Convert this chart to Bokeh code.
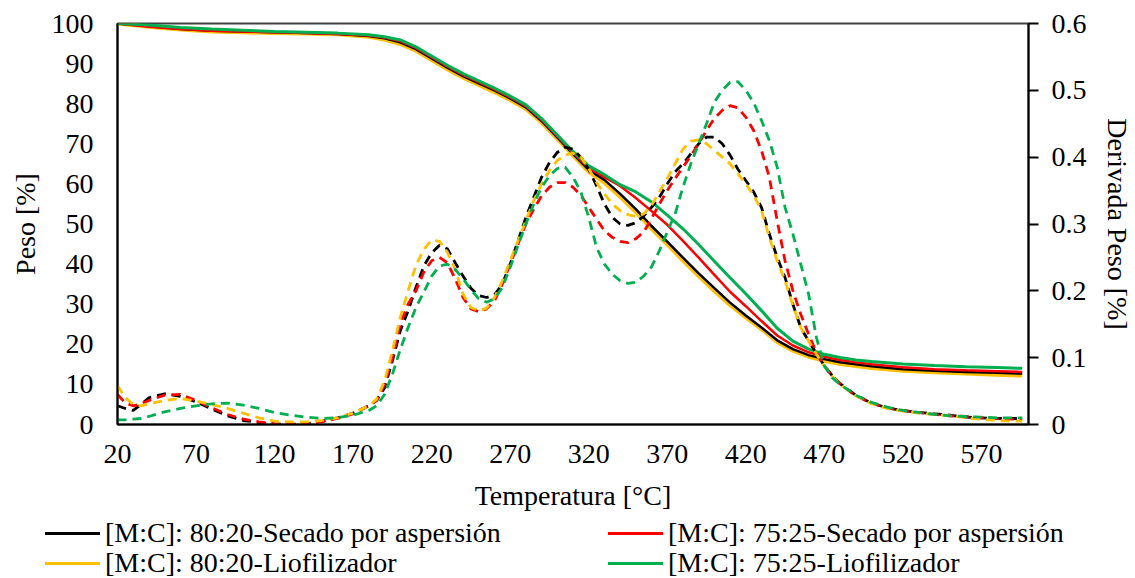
from bokeh.plotting import figure
from bokeh.layouts import column
from bokeh.models import (Range1d, LinearAxis, FixedTicker, CustomJSTickFormatter, Div)
from bokeh.embed import file_html
from bokeh.resources import INLINE

# ---------------- data ----------------
X_TICKS = [20, 70, 120, 170, 220, 270, 320, 370, 420, 470, 520, 570]
Y_TICKS = [0, 10, 20, 30, 40, 50, 60, 70, 80, 90, 100]
DTG_TICKS = [0, 0.1, 0.2, 0.3, 0.4, 0.5, 0.6]

LABELS = ["[M:C]: 80:20-Secado por aspersión",
          "[M:C]: 75:25-Secado por aspersión",
          "[M:C]: 80:20-Liofilizador",
          "[M:C]: 75:25-Liofilizador"]

# Weight (TGA), left axis
T_TG = [20, 40, 60, 80, 100, 120, 140, 160, 180, 190, 200, 210, 220, 230, 240, 250,
        260, 270, 280, 290, 300, 310, 320, 330, 340, 350, 360, 370, 380, 390, 400,
        410, 420, 430, 440, 450, 460, 470, 480, 490, 500, 520, 540, 560, 580, 596]
TG_80_SEC = [100, 99.3, 98.6, 98.2, 98.0, 97.8, 97.6, 97.4, 96.9, 96.3, 95.3, 93.6,
             91.3, 89.0, 86.9, 85.1, 83.3, 81.3, 79.1, 75.7, 71.6, 67.5, 63.5, 61.0,
             57.5, 53.7, 49.5, 45.6, 41.6, 37.7, 34.0, 30.4, 27.2, 24.2, 21.0, 18.8,
             17.3, 16.3, 15.5, 15.0, 14.5, 13.8, 13.4, 13.1, 12.9, 12.7]
TG_75_SEC = [100, 99.2, 98.6, 98.2, 98.0, 97.8, 97.6, 97.4, 97.0, 96.5, 95.6, 93.9,
             91.6, 89.3, 87.2, 85.4, 83.6, 81.6, 79.4, 76.0, 71.9, 67.8, 64.0, 61.7,
             59.5, 56.5, 53.2, 49.8, 45.8, 41.6, 37.3, 33.1, 29.5, 25.8, 22.2, 19.7,
             18.0, 16.9, 16.1, 15.5, 15.0, 14.3, 13.8, 13.5, 13.3, 13.1]
TG_80_LIO = [100, 99.2, 98.5, 98.0, 97.8, 97.6, 97.5, 97.3, 96.7, 96.0, 94.9, 93.2,
             90.9, 88.6, 86.5, 84.7, 82.9, 80.9, 78.7, 75.3, 71.2, 67.1, 63.0, 60.3,
             56.8, 53.0, 48.8, 44.9, 40.9, 37.0, 33.3, 29.8, 26.7, 23.8, 20.6, 18.4,
             16.9, 15.9, 15.1, 14.6, 14.1, 13.4, 13.0, 12.7, 12.4, 12.2]
TG_75_LIO = [100, 99.6, 99.0, 98.6, 98.3, 98.0, 97.8, 97.6, 97.2, 96.7, 95.9, 94.2,
             91.9, 89.6, 87.5, 85.7, 83.9, 81.9, 79.7, 76.3, 72.2, 68.1, 64.5, 62.3,
             59.8, 58.0, 55.5, 52.2, 48.8, 44.9, 40.7, 36.6, 32.6, 28.4, 24.0, 20.8,
             18.8, 17.5, 16.7, 16.1, 15.7, 15.1, 14.7, 14.4, 14.2, 14.0]

# Derivative (DTG), right axis
T_DTG = [20, 25, 30, 35, 40, 50, 60, 70, 80, 90, 100, 110, 120, 130, 140, 150, 160,
         170, 180, 185, 190, 195, 200, 205, 210, 215, 220, 225, 230, 235, 240, 245,
         250, 255, 260, 265, 270, 275, 280, 285, 290, 295, 300, 305, 310, 315, 320,
         325, 330, 335, 340, 345, 350, 355, 360, 365, 370, 375, 380, 385, 390, 395,
         400, 405, 410, 415, 420, 425, 430, 435, 440, 445, 450, 455, 460, 465, 470,
         475, 480, 490, 500, 510, 520, 530, 540, 550, 560, 570, 580, 590, 596]
DTG_80_SEC = [0.028, 0.024, 0.021, 0.030, 0.040, 0.046, 0.042, 0.034, 0.023, 0.013,
              0.006, 0.003, 0.001, 0.000, 0.001, 0.005, 0.010, 0.017, 0.028, 0.036,
              0.055, 0.095, 0.140, 0.170, 0.205, 0.237, 0.257, 0.268, 0.263, 0.242,
              0.222, 0.204, 0.193, 0.190, 0.194, 0.210, 0.240, 0.275, 0.310, 0.340,
              0.370, 0.392, 0.407, 0.415, 0.412, 0.400, 0.382, 0.357, 0.330, 0.310,
              0.300, 0.298, 0.302, 0.312, 0.325, 0.340, 0.360, 0.378, 0.390, 0.405,
              0.420, 0.430, 0.430, 0.420, 0.403, 0.382, 0.365, 0.348, 0.325, 0.285,
              0.250, 0.220, 0.180, 0.145, 0.125, 0.106, 0.088, 0.073, 0.061, 0.044,
              0.032, 0.025, 0.021, 0.018, 0.016, 0.014, 0.011, 0.010, 0.009, 0.009,
              0.009]
DTG_75_SEC = [0.045, 0.032, 0.028, 0.031, 0.036, 0.044, 0.045, 0.036, 0.025, 0.015,
              0.008, 0.004, 0.001, 0.000, 0.001, 0.004, 0.009, 0.016, 0.028, 0.036,
              0.060, 0.100, 0.150, 0.180, 0.200, 0.228, 0.245, 0.250, 0.242, 0.218,
              0.190, 0.173, 0.169, 0.173, 0.185, 0.210, 0.240, 0.270, 0.300, 0.322,
              0.342, 0.355, 0.362, 0.362, 0.355, 0.343, 0.325, 0.307, 0.290, 0.280,
              0.274, 0.272, 0.278, 0.288, 0.308, 0.330, 0.350, 0.368, 0.385, 0.402,
              0.420, 0.440, 0.458, 0.470, 0.477, 0.474, 0.460, 0.440, 0.410, 0.370,
              0.305, 0.245, 0.200, 0.165, 0.135, 0.108, 0.088, 0.073, 0.061, 0.043,
              0.032, 0.025, 0.021, 0.018, 0.015, 0.013, 0.012, 0.010, 0.009, 0.008,
              0.008]
DTG_80_LIO = [0.058, 0.040, 0.030, 0.028, 0.031, 0.036, 0.039, 0.035, 0.030, 0.024,
              0.017, 0.010, 0.005, 0.004, 0.004, 0.006, 0.010, 0.017, 0.028, 0.038,
              0.065, 0.110, 0.160, 0.200, 0.238, 0.262, 0.276, 0.274, 0.258, 0.232,
              0.195, 0.175, 0.170, 0.174, 0.190, 0.215, 0.245, 0.275, 0.305, 0.335,
              0.360, 0.380, 0.395, 0.403, 0.406, 0.400, 0.383, 0.362, 0.345, 0.330,
              0.320, 0.314, 0.311, 0.315, 0.328, 0.348, 0.368, 0.390, 0.412, 0.424,
              0.426, 0.420, 0.410, 0.400, 0.390, 0.375, 0.360, 0.343, 0.320, 0.280,
              0.245, 0.215, 0.178, 0.145, 0.125, 0.105, 0.087, 0.072, 0.060, 0.043,
              0.031, 0.024, 0.020, 0.017, 0.015, 0.013, 0.010, 0.008, 0.006, 0.005,
              0.005]
DTG_75_LIO = [0.007, 0.007, 0.008, 0.009, 0.012, 0.019, 0.024, 0.028, 0.031, 0.032,
              0.029, 0.024, 0.018, 0.014, 0.011, 0.009, 0.010, 0.014, 0.021, 0.028,
              0.045, 0.075, 0.112, 0.145, 0.175, 0.198, 0.222, 0.237, 0.240, 0.232,
              0.218, 0.202, 0.188, 0.183, 0.188, 0.205, 0.235, 0.268, 0.300, 0.330,
              0.355, 0.372, 0.383, 0.385, 0.370, 0.348, 0.310, 0.265, 0.240, 0.225,
              0.215, 0.211, 0.213, 0.222, 0.236, 0.260, 0.288, 0.315, 0.355, 0.390,
              0.420, 0.450, 0.482, 0.500, 0.512, 0.513, 0.500, 0.482, 0.455, 0.425,
              0.385, 0.325, 0.285, 0.240, 0.195, 0.130, 0.088, 0.070, 0.060, 0.044,
              0.033, 0.026, 0.021, 0.018, 0.015, 0.013, 0.012, 0.011, 0.010, 0.010,
              0.010]

COLORS = ["#000000", "#FF0000", "#FFC000", "#00B050"]
WIDTHS = [2.5, 2.5, 4, 3]

FONT = "Liberation Serif"
FS = "28px"

# ---------------- main figure ----------------
p = figure(width=1135, height=518, x_range=Range1d(20, 600), y_range=Range1d(0, 100),
           output_backend="svg", toolbar_location=None,
           min_border_left=117, min_border_right=105, min_border_top=23,
           min_border_bottom=94)
p.xgrid.visible = False
p.ygrid.visible = False
p.outline_line_color = "#404040"
p.outline_line_width = 2
p.background_fill_color = "white"
p.border_fill_color = "white"

p.extra_y_ranges = {"dtg": Range1d(0, 0.6)}

tg_sets = [TG_80_SEC, TG_75_SEC, TG_80_LIO, TG_75_LIO]
for i in [2, 0, 1, 3]:
    p.line(T_TG, tg_sets[i], line_color=COLORS[i], line_width=WIDTHS[i])

dtg_sets = [DTG_80_SEC, DTG_75_SEC, DTG_80_LIO, DTG_75_LIO]
for i in [0, 1, 2, 3]:
    p.line(T_DTG, dtg_sets[i], line_color=COLORS[i], line_width=2.8,
           line_dash="9 6", y_range_name="dtg")

for ax in [p.xaxis[0], p.yaxis[0]]:
    ax.axis_line_color = "black"
    ax.axis_line_width = 2
    ax.major_tick_out = 0
    ax.major_tick_in = 0
    ax.minor_tick_line_color = None
    ax.major_label_text_font = FONT
    ax.major_label_text_font_size = FS
    ax.major_label_text_color = "black"
    ax.axis_label_text_font = FONT
    ax.axis_label_text_font_size = FS
    ax.axis_label_text_font_style = "normal"
    ax.axis_label_text_color = "black"

p.xaxis.ticker = FixedTicker(ticks=X_TICKS)
p.xaxis.axis_label = "Temperatura [°C]"
p.xaxis.major_label_standoff = 20
p.xaxis.axis_label_standoff = 14

p.yaxis.ticker = FixedTicker(ticks=Y_TICKS)
p.yaxis.axis_label = "Peso [%]"
p.yaxis.major_label_standoff = 24
p.yaxis.axis_label_standoff = 8

ax2 = LinearAxis(y_range_name="dtg", ticker=FixedTicker(ticks=DTG_TICKS),
                 formatter=CustomJSTickFormatter(
                     code="return tick === 0 ? '0' : tick.toFixed(1);"),
                 axis_label="Derivada Peso [%]")
ax2.axis_line_color = "black"
ax2.axis_line_width = 2
ax2.major_tick_out = 10
ax2.major_tick_in = 0
ax2.major_tick_line_width = 2
ax2.major_tick_line_color = "black"
ax2.minor_tick_line_color = None
ax2.major_label_text_font = FONT
ax2.major_label_text_font_size = FS
ax2.major_label_text_color = "black"
ax2.major_label_standoff = 13
ax2.axis_label_text_font = FONT
ax2.axis_label_text_font_size = FS
ax2.axis_label_text_font_style = "normal"
ax2.axis_label_text_color = "black"
ax2.axis_label_standoff = 12
p.add_layout(ax2, "right")

# ---------------- legend strip (two columns) ----------------
COL_X = [45, 608, 45, 608]
ROW_Y = [0, 0, 30, 30]
parts = []
for i in range(4):
    parts.append(
        f"<div style=\"position:absolute;left:{COL_X[i]}px;top:{ROW_Y[i]}px;height:30px;"
        f"display:flex;align-items:center;white-space:nowrap;\">"
        f"<span style=\"display:inline-block;width:55px;height:0;"
        f"border-top:3px solid {COLORS[i]};\"></span>"
        f"<span style=\"margin-left:5px;line-height:30px;\">{LABELS[i]}</span></div>")
html = (f"<div style=\"position:relative;width:1135px;height:60px;"
        f"font-family:'{FONT}';font-size:{FS};color:#000;\">" + "".join(parts) + "</div>")
legend_div = Div(text=html, width=1135, height=60, margin=(0, 0, 0, 0))

layout = column(p, legend_div, spacing=0)
open("out.html", "w").write(file_html(layout, INLINE))
